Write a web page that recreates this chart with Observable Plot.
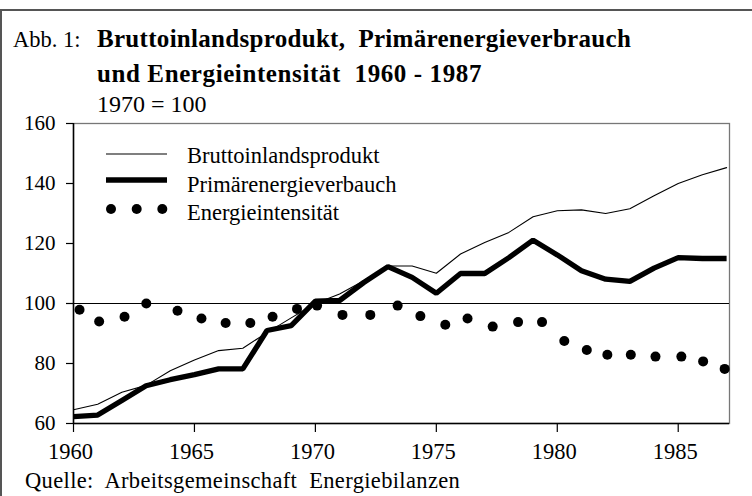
<!DOCTYPE html>
<html><head><meta charset="utf-8">
<script src="https://cdn.jsdelivr.net/npm/d3@7"></script>
<script src="https://cdn.jsdelivr.net/npm/@observablehq/plot@0.6"></script>
<style>
html,body{margin:0;padding:0;background:#fff;}
#wrap{position:relative;width:752px;height:496px;overflow:hidden;font-family:'Liberation Serif','Times New Roman',serif;}
#chart{position:absolute;left:0;top:0;}
#overlay{position:absolute;left:0;top:0;pointer-events:none;}
#overlay text{white-space:pre;font-family:'Liberation Serif','Times New Roman',serif;fill:#000;}
</style></head><body>
<div id="wrap"><div id="chart"></div><svg id="overlay" width="752" height="496"></svg></div>
<script>
// Data (index 1970 = 100)
const years = [1960,1961,1962,1963,1964,1965,1966,1967,1968,1969,1970,1971,1972,1973,1974,1975,1976,1977,1978,1979,1980,1981,1982,1983,1984,1985,1986,1987];
const bip = [64.6,66.4,70.4,72.7,77.6,81.2,84.3,85.1,90.3,95.2,100,103.2,107.6,112.5,112.5,110.1,116.5,120.3,123.7,128.9,130.9,131.2,130.0,131.6,135.9,140.0,142.9,145.3];
const primaer = [62.3,62.8,67.7,72.6,74.6,76.3,78.2,78.2,91.0,92.6,100.8,101.0,107.0,112.3,108.7,103.4,110.0,110.0,115.3,121.1,116.2,110.9,108.1,107.4,111.8,115.3,115.0,115.0];
// Energy intensity dots: horizontal position (in years, as drawn) and value
const intensPos = [1960.25,1961.06,1962.11,1963.01,1964.3,1965.29,1966.29,1967.31,1968.23,1969.24,1970.07,1971.12,1972.27,1973.4,1974.34,1975.37,1976.29,1977.33,1978.38,1979.37,1980.29,1981.22,1982.07,1983.04,1984.06,1985.13,1986.03,1986.92];
const intens = [97.9,94.0,95.6,100.0,97.6,95.0,93.5,93.5,95.6,98.2,99.3,96.2,96.2,99.3,95.8,92.9,95.0,92.3,93.8,93.8,87.5,84.5,82.9,82.9,82.3,82.3,80.7,78.2];
const xTicks = [1960,1965,1970,1975,1980,1985];
const yTicks = [60,80,100,120,140,160];
const seriesNames = ["Bruttoinlandsprodukt","Primärenergieverbauch","Energieintensität"];
const titleLines = ["Bruttoinlandsprodukt,  Primärenergieverbrauch","und Energieintensität  1960 - 1987"];
const figLabel = "Abb. 1:";
const unitLabel = "1970 = 100";
const source = "Quelle:  Arbeitsgemeinschaft  Energiebilanzen";

const lineData = years.map((y,i)=>({year:y,bip:bip[i],primaer:primaer[i]}));
const dotData = intens.map((v,i)=>({pos:intensPos[i],value:v}));

const serif = "'Liberation Serif','Times New Roman',serif";
const plot = Plot.plot({
  width: 752, height: 496,
  marginLeft: 73, marginRight: 23, marginTop: 123, marginBottom: 73,
  style: {fontFamily: serif, fontSize: "21px", background: "transparent", color: "#000", overflow: "visible"},
  x: {domain: [1960, 1987.12], label: null},
  y: {domain: [60, 160], label: null},
  marks: [
    Plot.frame({stroke: "#777", strokeWidth: 1.3}),
    Plot.ruleY([100], {stroke: "#000", strokeWidth: 1.2}),
    Plot.ruleY([60], {stroke: "#000", strokeWidth: 1.5}),
    Plot.ruleX([1960], {stroke: "#000", strokeWidth: 1.5}),
    Plot.axisX(xTicks, {tickSize: 9, text: null, stroke: "#000", strokeWidth: 1.2}),
    Plot.axisX(xTicks, {tickSize: 0, tickPadding: 20, dx: -3, fontSize: 22.5, tickFormat: d => String(d)}),
    Plot.axisY(yTicks, {tickSize: 7, tickPadding: 11, fontSize: 21, stroke: "#000", strokeWidth: 1.2}),
    Plot.line(lineData, {x: "year", y: "bip", stroke: "#000", strokeWidth: 1.1}),
    Plot.line(lineData, {x: "year", y: "primaer", stroke: "#000", strokeWidth: 5.3, strokeLinejoin: "miter", strokeLinecap: "butt"}),
    Plot.dot(dotData, {x: "pos", y: "value", r: 5, fill: "#000", stroke: null})
  ]
});
document.getElementById("chart").appendChild(plot);

const ov = d3.select("#overlay");
ov.append("line").attr("x1",0).attr("x2",752).attr("y1",10).attr("y2",10).attr("stroke","#555").attr("stroke-width",2);
ov.append("line").attr("x1",1).attr("x2",1).attr("y1",10).attr("y2",496).attr("stroke","#555").attr("stroke-width",2);
ov.append("text").attr("x",13).attr("y",47).attr("font-size",22.5).text(figLabel);
ov.append("text").attr("x",97).attr("y",47).attr("font-size",25).attr("font-weight","bold").attr("letter-spacing",0.3).text(titleLines[0]);
ov.append("text").attr("x",97).attr("y",82).attr("font-size",25).attr("font-weight","bold").attr("letter-spacing",0.6).text(titleLines[1]);
ov.append("text").attr("x",97).attr("y",112).attr("font-size",24).text(unitLabel);
// legend
ov.append("line").attr("x1",106).attr("x2",167).attr("y1",154).attr("y2",154).attr("stroke","#000").attr("stroke-width",1.1);
ov.append("line").attr("x1",106).attr("x2",167).attr("y1",180).attr("y2",180).attr("stroke","#000").attr("stroke-width",5.5);
[111,136.7,162.3].forEach(cx=>ov.append("circle").attr("cx",cx).attr("cy",209).attr("r",5).attr("fill","#000"));
[163,192,220].forEach((y,i)=>ov.append("text").attr("x",187).attr("y",y).attr("font-size",22.5).text(seriesNames[i]));
ov.append("text").attr("x",25).attr("y",488).attr("font-size",22.5).attr("letter-spacing",0.35).text(source);
</script>
</body></html>
